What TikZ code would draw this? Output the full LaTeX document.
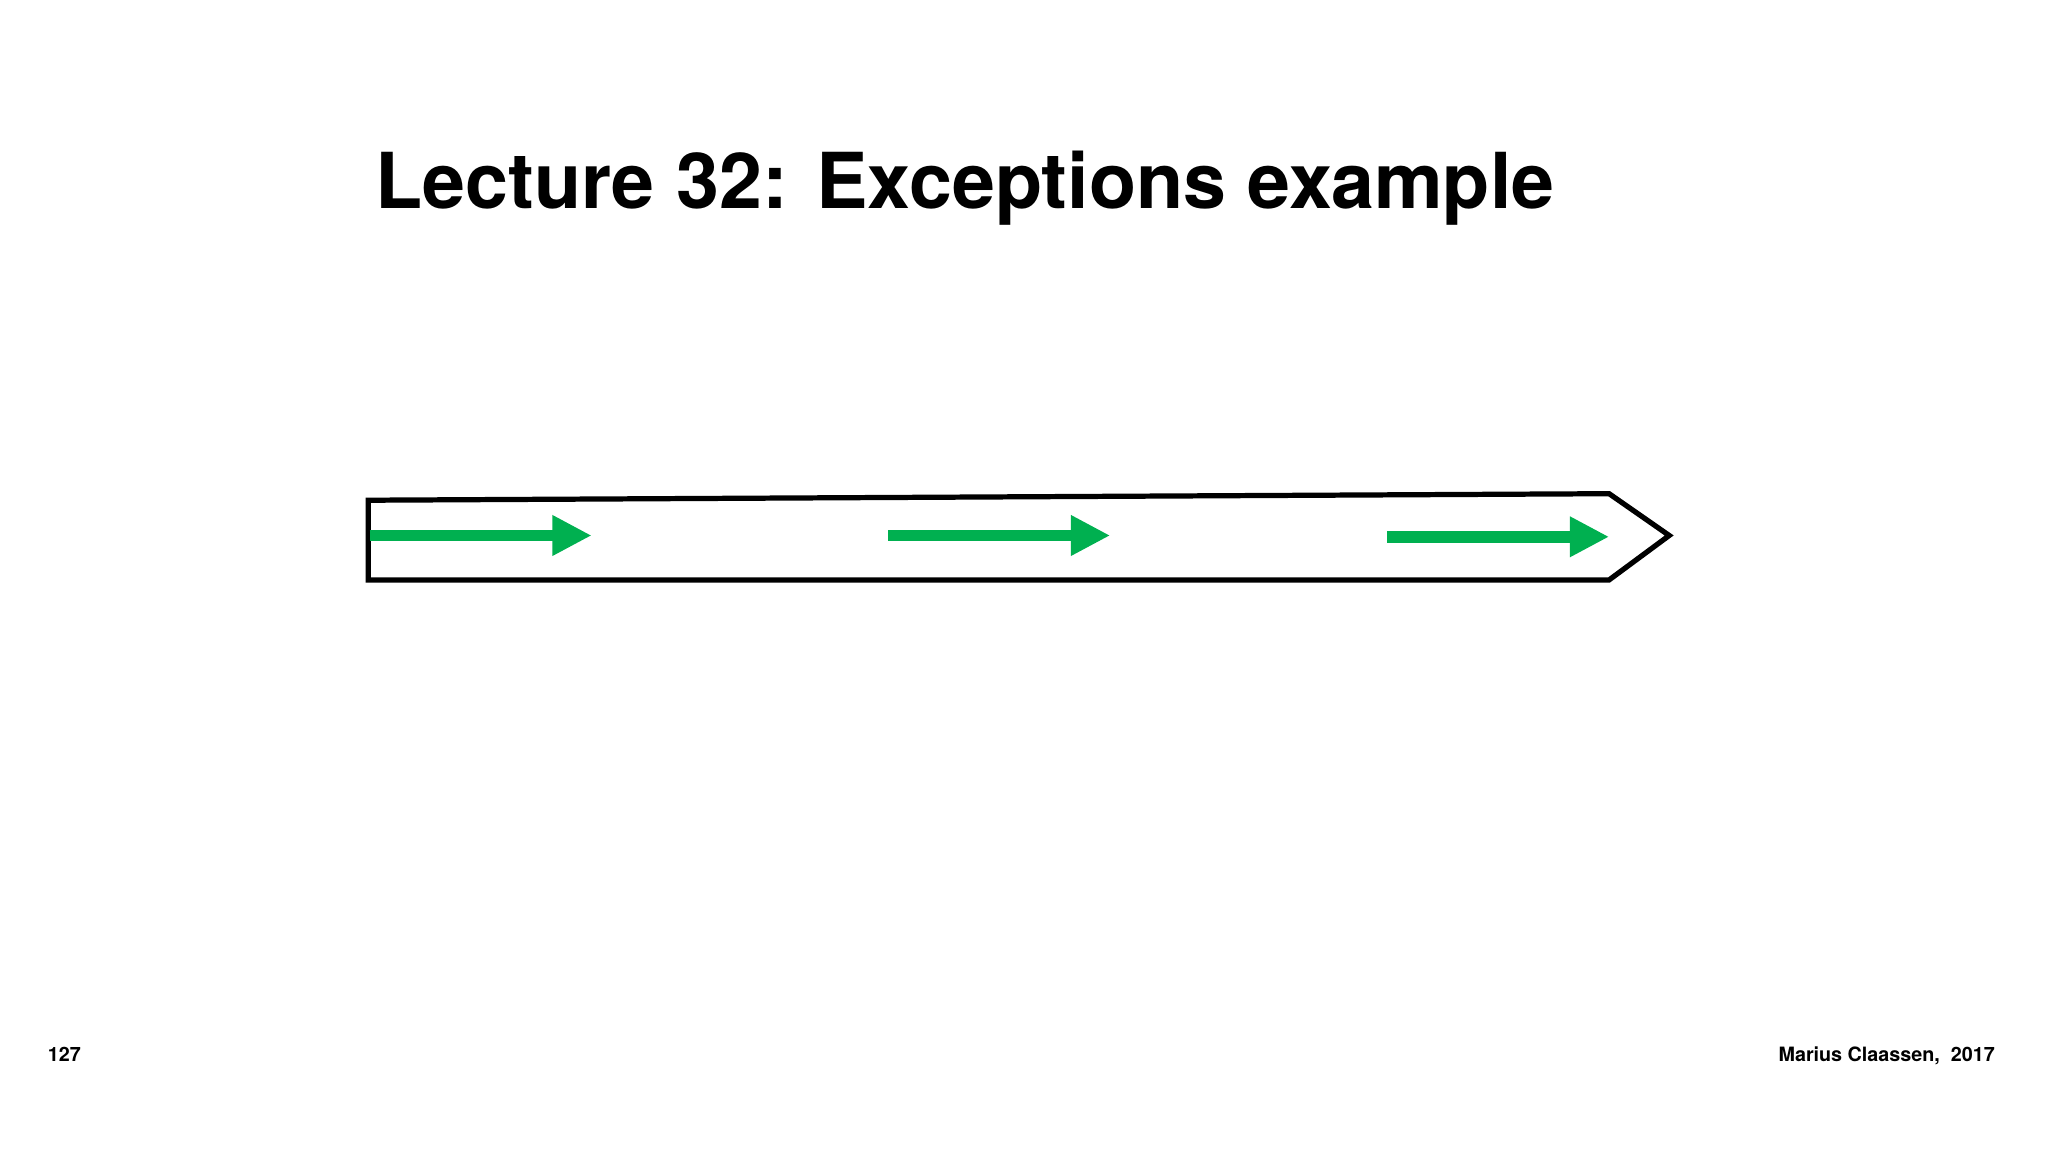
\documentclass[tikz,border=0pt]{standalone}
\usepackage{fontspec}
\setmainfont{TeX Gyre Heros}
\usetikzlibrary{arrows.meta}
\definecolor{arrgreen}{HTML}{00B050}
\tikzset{
  flow/.style={draw=arrgreen, line width=0.09cm, -{Triangle[length=0.3cm,width=0.29cm]}},
  outline/.style={draw=black, line width=0.04cm, line join=miter},
  foot/.style={font=\bfseries\fontsize{4.3}{5}\selectfont, inner sep=0pt}
}
\begin{document}
\begin{tikzpicture}[x=0.01cm,y=0.01cm]
\useasboundingbox (0,0) rectangle (1568,882);
\node[anchor=base west, inner sep=0pt, font=\bfseries\fontsize{16.8}{20}\selectfont] (title) at (287,722) {Lecture 32: Exceptions example};
\draw[outline] (282,499) -- (1232,504) -- (1278,472) -- (1232,438) -- (282,438) -- cycle;
\coordinate (a1) at (283,472); \coordinate (b1) at (453,472);
\coordinate (a2) at (680,472); \coordinate (b2) at (850,472);
\coordinate (a3) at (1062,471); \coordinate (b3) at (1232,471);
\draw[flow] (a1) -- (b1);
\draw[flow] (a2) -- (b2);
\draw[flow] (a3) -- (b3);
\node[foot, anchor=base west] (pg) at (36,69) {127};
\node[foot, anchor=base east] (auth) at (1528,69) {Marius Claassen,\ \ 2017};
\end{tikzpicture}
\end{document}
